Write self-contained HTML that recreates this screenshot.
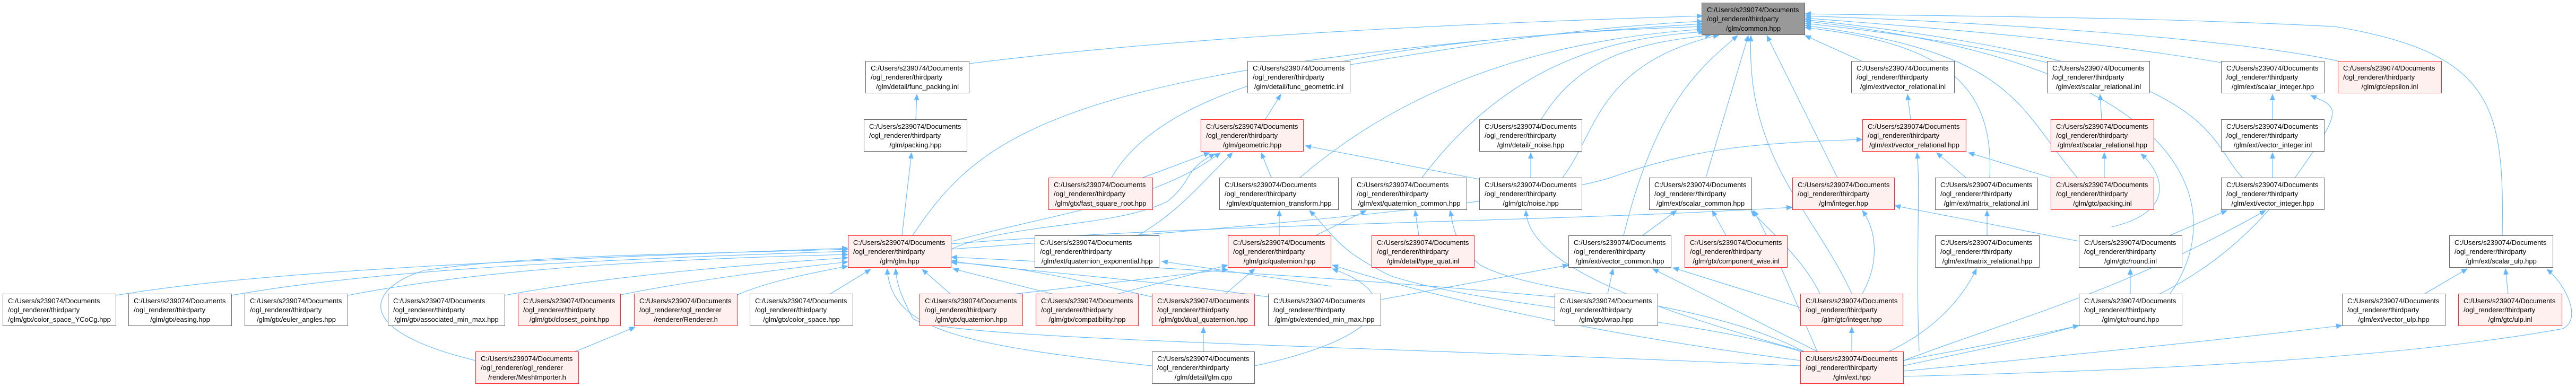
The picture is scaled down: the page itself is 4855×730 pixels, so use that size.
<!DOCTYPE html>
<html><head><meta charset="utf-8"><style>
body{margin:0;width:4855px;height:730px;background:#fff;position:relative;overflow:hidden;font-family:"Liberation Sans",Arial,sans-serif}
svg{position:absolute;left:0;top:0}
.n{position:absolute;height:61px;box-sizing:border-box;border:1.3px solid #666;background:#fff;font-size:13px;line-height:17.4px;padding:4px 0 0 9px;color:#000;white-space:nowrap}
.n span{display:block}
.n span.c{text-align:center;margin-left:-9px}
.r{border-color:#ff2a2a;background:#fff0f0}
.g{background:#999;border-color:#666}
</style></head><body>
<svg width="4855" height="730" viewBox="0 0 4855 730">
<defs><marker id="a" markerWidth="12" markerHeight="10" refX="11" refY="5" orient="auto" markerUnits="userSpaceOnUse"><path d="M0,0 L12,5 L0,10 z" fill="#63b8ff"/></marker></defs>
<g fill="none" stroke="#63b8ff" stroke-width="1.1" marker-end="url(#a)">
<path d="M1827,120 C2300,60 2900,40 3209,30"/>
<path d="M2545,122 C2800,80 3000,50 3209,40"/>
<path d="M1720,444 C1850,250 2000,120 3209,45"/>
<path d="M2095,335 C2200,150 2600,70 3209,50"/>
<path d="M2450,335 C2700,120 3000,70 3209,55"/>
<path d="M2680,335 C2850,110 3050,70 3212,60"/>
<path d="M2905,225 C2980,100 3100,80 3225,66"/>
<path d="M2945,335 C3010,250 3010,120 3240,66"/>
<path d="M3060,444 C3120,200 3200,130 3275,67"/>
<path d="M3215,335 L3295,67"/>
<path d="M3490,554 C3420,400 3290,300 3300,67"/>
<path d="M3463,335 L3330,67"/>
<path d="M3508,115 L3402,67"/>
<path d="M3750,335 C3760,150 3650,80 3402,52"/>
<path d="M3915,335 C3800,200 3800,100 3402,48"/>
<path d="M3858,118 C3700,80 3550,60 3402,44"/>
<path d="M4090,554 C4200,400 4150,120 3402,40"/>
<path d="M4226,335 C4150,250 4180,120 3402,37"/>
<path d="M4186,118 C3900,70 3600,50 3402,34"/>
<path d="M4406,115 C4200,70 3700,40 3402,30"/>
<path d="M4716,444 C4720,200 4700,100 4400,50 C4000,30 3600,30 3402,26"/>
<path d="M1726,225 L1728,178"/>
<path d="M2385,225 L2414,178"/>
<path d="M3601,225 L3595,178"/>
<path d="M3961,225 L3958,178"/>
<path d="M4283,225 L4283,178"/>
<path d="M4283,335 L4283,288"/>
<path d="M2885,335 L2885,288"/>
<path d="M2154,335 L2280,288"/>
<path d="M2396,335 L2377,288"/>
<path d="M2788,338 L2460,275"/>
<path d="M1700,444 L1718,288"/>
<path d="M1795,455 C2000,400 2180,380 2300,288"/>
<path d="M2145,444 C2220,400 2250,360 2323,288"/>
<path d="M1793,470 C1900,420 2100,430 2200,380 C2250,340 2230,320 2290,290"/>
<path d="M2411,444 L2411,397"/>
<path d="M2480,444 L2575,397"/>
<path d="M2674,444 L2667,397"/>
<path d="M3400,663 C3200,560 2900,560 2790,500 C2740,460 2740,430 2733,397"/>
<path d="M3393,663 C3200,600 2800,580 2620,520 C2520,470 2520,450 2468,397"/>
<path d="M3400,663 C3100,580 2880,500 2876,397"/>
<path d="M3096,444 L3160,397"/>
<path d="M3253,444 L3227,397"/>
<path d="M3430,554 C3400,490 3330,430 3300,397"/>
<path d="M3425,663 C3380,560 3340,460 3305,397"/>
<path d="M1793,460 C2300,420 2900,420 3378,391"/>
<path d="M3510,554 C3540,500 3540,440 3510,397"/>
<path d="M3918,455 L3571,388"/>
<path d="M1793,470 C2500,420 2950,370 3050,330 C3200,280 3300,270 3510,263"/>
<path d="M3705,335 L3650,288"/>
<path d="M3865,335 L3710,288"/>
<path d="M3617,663 C3610,500 3620,350 3613,288"/>
<path d="M3966,335 L3966,288"/>
<path d="M3980,428 C4100,400 4080,330 4035,290"/>
<path d="M3745,444 L3745,397"/>
<path d="M3560,663 C3650,620 3700,560 3725,507"/>
<path d="M4015,554 L4015,507"/>
<path d="M4090,444 L4197,397"/>
<path d="M3588,680 C3750,650 3850,630 3918,614"/>
<path d="M3588,680 C3800,600 4000,550 4270,397"/>
<path d="M3588,690 C3900,620 4150,600 4350,300 C4420,200 4400,200 4355,180"/>
<path d="M3588,700 C3900,670 4200,640 4414,614"/>
<path d="M3588,710 C4000,700 4500,680 4830,620 C4870,600 4830,530 4800,508"/>
<path d="M4570,554 L4650,507"/>
<path d="M4727,554 L4722,507"/>
<path d="M3030,554 L3040,507"/>
<path d="M3393,580 L3153,505"/>
<path d="M3425,663 L3115,507"/>
<path d="M3490,663 L3490,617"/>
<path d="M219,557 C500,510 1000,490 1598,468"/>
<path d="M437,557 C700,510 1100,490 1598,474"/>
<path d="M656,557 C900,510 1200,490 1598,480"/>
<path d="M952,557 C1150,520 1400,500 1598,486"/>
<path d="M1170,556 C1300,530 1450,510 1598,494"/>
<path d="M1390,556 C1450,530 1530,515 1598,502"/>
<path d="M1562,556 L1641,508"/>
<path d="M1793,556 L1738,508"/>
<path d="M1990,556 L1796,507"/>
<path d="M1077,666 L1197,617"/>
<path d="M896,680 C650,620 700,540 800,510 C1000,480 1300,480 1598,470"/>
<path d="M2171,690 C1800,650 1680,620 1672,507"/>
<path d="M3393,690 C2500,650 1750,640 1720,600 C1700,560 1690,540 1688,507"/>
<path d="M2390,560 C2100,520 1900,510 1793,492"/>
<path d="M2930,560 C2500,520 2100,500 1793,485"/>
<path d="M2171,560 C2000,520 1900,500 1793,495"/>
<path d="M1900,556 L2314,508"/>
<path d="M2100,556 L2314,500"/>
<path d="M2310,554 L2365,507"/>
<path d="M2365,690 C2600,640 2660,560 2511,507"/>
<path d="M3393,680 C3000,630 2700,560 2511,500"/>
<path d="M2509,540 L2190,493"/>
<path d="M2268,663 L2268,617"/>
<path d="M2603,565 L2956,500"/>
</g>
</svg>

<div class="n" style="left:5px;top:554px;width:214px"><span>C:/Users/s239074/Documents</span><span>/ogl_renderer/thirdparty</span><span class="c">/glm/gtx/color_space_YCoCg.hpp</span></div>
<div class="n" style="left:242px;top:554px;width:195px"><span>C:/Users/s239074/Documents</span><span>/ogl_renderer/thirdparty</span><span class="c">/glm/gtx/easing.hpp</span></div>
<div class="n" style="left:461px;top:554px;width:195px"><span>C:/Users/s239074/Documents</span><span>/ogl_renderer/thirdparty</span><span class="c">/glm/gtx/euler_angles.hpp</span></div>
<div class="n" style="left:731px;top:554px;width:221px"><span>C:/Users/s239074/Documents</span><span>/ogl_renderer/thirdparty</span><span class="c">/glm/gtx/associated_min_max.hpp</span></div>
<div class="n r" style="left:976px;top:554px;width:194px"><span>C:/Users/s239074/Documents</span><span>/ogl_renderer/thirdparty</span><span class="c">/glm/gtx/closest_point.hpp</span></div>
<div class="n r" style="left:896px;top:663px;width:195px"><span>C:/Users/s239074/Documents</span><span>/ogl_renderer/ogl_renderer</span><span class="c">/renderer/MeshImporter.h</span></div>
<div class="n r" style="left:1195px;top:554px;width:195px"><span>C:/Users/s239074/Documents</span><span>/ogl_renderer/ogl_renderer</span><span class="c">/renderer/Renderer.h</span></div>
<div class="n" style="left:1413px;top:554px;width:195px"><span>C:/Users/s239074/Documents</span><span>/ogl_renderer/thirdparty</span><span class="c">/glm/gtx/color_space.hpp</span></div>
<div class="n" style="left:1631px;top:115px;width:196px"><span>C:/Users/s239074/Documents</span><span>/ogl_renderer/thirdparty</span><span class="c">/glm/detail/func_packing.inl</span></div>
<div class="n" style="left:1628px;top:225px;width:195px"><span>C:/Users/s239074/Documents</span><span>/ogl_renderer/thirdparty</span><span class="c">/glm/packing.hpp</span></div>
<div class="n r" style="left:1598px;top:444px;width:195px"><span>C:/Users/s239074/Documents</span><span>/ogl_renderer/thirdparty</span><span class="c">/glm/glm.hpp</span></div>
<div class="n r" style="left:1733px;top:554px;width:195px"><span>C:/Users/s239074/Documents</span><span>/ogl_renderer/thirdparty</span><span class="c">/glm/gtx/quaternion.hpp</span></div>
<div class="n r" style="left:1952px;top:554px;width:194px"><span>C:/Users/s239074/Documents</span><span>/ogl_renderer/thirdparty</span><span class="c">/glm/gtx/compatibility.hpp</span></div>
<div class="n r" style="left:1976px;top:335px;width:197px"><span>C:/Users/s239074/Documents</span><span>/ogl_renderer/thirdparty</span><span class="c">/glm/gtx/fast_square_root.hpp</span></div>
<div class="n" style="left:1950px;top:444px;width:235px"><span>C:/Users/s239074/Documents</span><span>/ogl_renderer/thirdparty</span><span class="c">/glm/ext/quaternion_exponential.hpp</span></div>
<div class="n" style="left:2351px;top:115px;width:194px"><span>C:/Users/s239074/Documents</span><span>/ogl_renderer/thirdparty</span><span class="c">/glm/detail/func_geometric.inl</span></div>
<div class="n r" style="left:2263px;top:225px;width:194px"><span>C:/Users/s239074/Documents</span><span>/ogl_renderer/thirdparty</span><span class="c">/glm/geometric.hpp</span></div>
<div class="n" style="left:2298px;top:335px;width:225px"><span>C:/Users/s239074/Documents</span><span>/ogl_renderer/thirdparty</span><span class="c">/glm/ext/quaternion_transform.hpp</span></div>
<div class="n" style="left:2547px;top:335px;width:218px"><span>C:/Users/s239074/Documents</span><span>/ogl_renderer/thirdparty</span><span class="c">/glm/ext/quaternion_common.hpp</span></div>
<div class="n" style="left:2788px;top:225px;width:194px"><span>C:/Users/s239074/Documents</span><span>/ogl_renderer/thirdparty</span><span class="c">/glm/detail/_noise.hpp</span></div>
<div class="n" style="left:2788px;top:335px;width:194px"><span>C:/Users/s239074/Documents</span><span>/ogl_renderer/thirdparty</span><span class="c">/glm/gtc/noise.hpp</span></div>
<div class="n r" style="left:2314px;top:444px;width:195px"><span>C:/Users/s239074/Documents</span><span>/ogl_renderer/thirdparty</span><span class="c">/glm/gtc/quaternion.hpp</span></div>
<div class="n r" style="left:2585px;top:444px;width:194px"><span>C:/Users/s239074/Documents</span><span>/ogl_renderer/thirdparty</span><span class="c">/glm/detail/type_quat.inl</span></div>
<div class="n r" style="left:2171px;top:554px;width:194px"><span>C:/Users/s239074/Documents</span><span>/ogl_renderer/thirdparty</span><span class="c">/glm/gtx/dual_quaternion.hpp</span></div>
<div class="n" style="left:2390px;top:554px;width:213px"><span>C:/Users/s239074/Documents</span><span>/ogl_renderer/thirdparty</span><span class="c">/glm/gtx/extended_min_max.hpp</span></div>
<div class="n" style="left:2171px;top:663px;width:194px"><span>C:/Users/s239074/Documents</span><span>/ogl_renderer/thirdparty</span><span class="c">/glm/detail/glm.cpp</span></div>
<div class="n" style="left:2956px;top:444px;width:194px"><span>C:/Users/s239074/Documents</span><span>/ogl_renderer/thirdparty</span><span class="c">/glm/ext/vector_common.hpp</span></div>
<div class="n" style="left:2930px;top:554px;width:195px"><span>C:/Users/s239074/Documents</span><span>/ogl_renderer/thirdparty</span><span class="c">/glm/gtx/wrap.hpp</span></div>
<div class="n g" style="left:3207px;top:5px;width:195px"><span>C:/Users/s239074/Documents</span><span>/ogl_renderer/thirdparty</span><span class="c">/glm/common.hpp</span></div>
<div class="n" style="left:3489px;top:115px;width:195px"><span>C:/Users/s239074/Documents</span><span>/ogl_renderer/thirdparty</span><span class="c">/glm/ext/vector_relational.inl</span></div>
<div class="n" style="left:3858px;top:115px;width:194px"><span>C:/Users/s239074/Documents</span><span>/ogl_renderer/thirdparty</span><span class="c">/glm/ext/scalar_relational.inl</span></div>
<div class="n r" style="left:3510px;top:225px;width:196px"><span>C:/Users/s239074/Documents</span><span>/ogl_renderer/thirdparty</span><span class="c">/glm/ext/vector_relational.hpp</span></div>
<div class="n r" style="left:3865px;top:225px;width:195px"><span>C:/Users/s239074/Documents</span><span>/ogl_renderer/thirdparty</span><span class="c">/glm/ext/scalar_relational.hpp</span></div>
<div class="n" style="left:3108px;top:335px;width:194px"><span>C:/Users/s239074/Documents</span><span>/ogl_renderer/thirdparty</span><span class="c">/glm/ext/scalar_common.hpp</span></div>
<div class="n r" style="left:3378px;top:335px;width:193px"><span>C:/Users/s239074/Documents</span><span>/ogl_renderer/thirdparty</span><span class="c">/glm/integer.hpp</span></div>
<div class="n" style="left:3647px;top:335px;width:194px"><span>C:/Users/s239074/Documents</span><span>/ogl_renderer/thirdparty</span><span class="c">/glm/ext/matrix_relational.inl</span></div>
<div class="n r" style="left:3865px;top:335px;width:195px"><span>C:/Users/s239074/Documents</span><span>/ogl_renderer/thirdparty</span><span class="c">/glm/gtc/packing.inl</span></div>
<div class="n r" style="left:3175px;top:444px;width:194px"><span>C:/Users/s239074/Documents</span><span>/ogl_renderer/thirdparty</span><span class="c">/glm/gtx/component_wise.inl</span></div>
<div class="n" style="left:3647px;top:444px;width:197px"><span>C:/Users/s239074/Documents</span><span>/ogl_renderer/thirdparty</span><span class="c">/glm/ext/matrix_relational.hpp</span></div>
<div class="n" style="left:3918px;top:444px;width:195px"><span>C:/Users/s239074/Documents</span><span>/ogl_renderer/thirdparty</span><span class="c">/glm/gtc/round.inl</span></div>
<div class="n r" style="left:3393px;top:554px;width:194px"><span>C:/Users/s239074/Documents</span><span>/ogl_renderer/thirdparty</span><span class="c">/glm/gtc/integer.hpp</span></div>
<div class="n" style="left:3918px;top:554px;width:195px"><span>C:/Users/s239074/Documents</span><span>/ogl_renderer/thirdparty</span><span class="c">/glm/gtc/round.hpp</span></div>
<div class="n r" style="left:3393px;top:663px;width:195px"><span>C:/Users/s239074/Documents</span><span>/ogl_renderer/thirdparty</span><span class="c">/glm/ext.hpp</span></div>
<div class="n" style="left:4186px;top:115px;width:195px"><span>C:/Users/s239074/Documents</span><span>/ogl_renderer/thirdparty</span><span class="c">/glm/ext/scalar_integer.hpp</span></div>
<div class="n r" style="left:4406px;top:115px;width:196px"><span>C:/Users/s239074/Documents</span><span>/ogl_renderer/thirdparty</span><span class="c">/glm/gtc/epsilon.inl</span></div>
<div class="n" style="left:4186px;top:225px;width:195px"><span>C:/Users/s239074/Documents</span><span>/ogl_renderer/thirdparty</span><span class="c">/glm/ext/vector_integer.inl</span></div>
<div class="n" style="left:4186px;top:335px;width:195px"><span>C:/Users/s239074/Documents</span><span>/ogl_renderer/thirdparty</span><span class="c">/glm/ext/vector_integer.hpp</span></div>
<div class="n" style="left:4616px;top:444px;width:196px"><span>C:/Users/s239074/Documents</span><span>/ogl_renderer/thirdparty</span><span class="c">/glm/ext/scalar_ulp.hpp</span></div>
<div class="n" style="left:4414px;top:554px;width:195px"><span>C:/Users/s239074/Documents</span><span>/ogl_renderer/thirdparty</span><span class="c">/glm/ext/vector_ulp.hpp</span></div>
<div class="n r" style="left:4633px;top:554px;width:196px"><span>C:/Users/s239074/Documents</span><span>/ogl_renderer/thirdparty</span><span class="c">/glm/gtc/ulp.inl</span></div>
</body></html>
